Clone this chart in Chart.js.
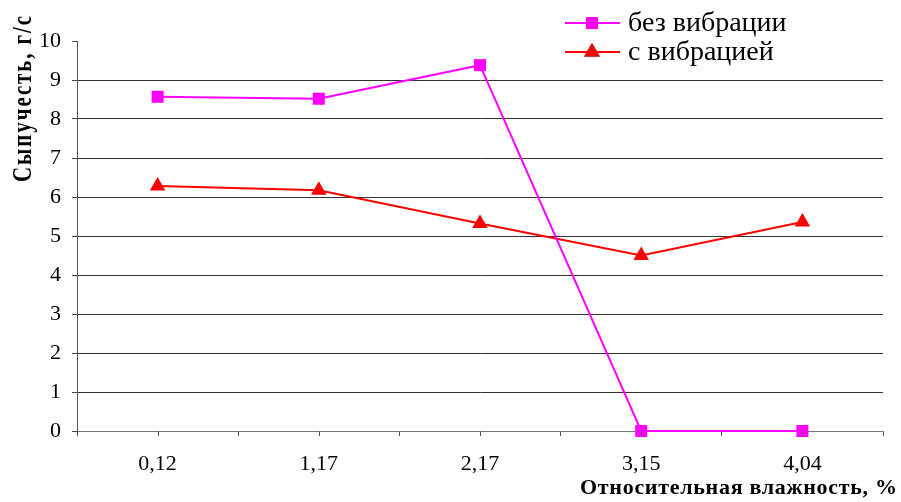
<!DOCTYPE html>
<html>
<head>
<meta charset="utf-8">
<script src="https://cdn.jsdelivr.net/npm/chart.js@4.4.0/dist/chart.umd.min.js"></script>
<style>
  html, body { margin: 0; padding: 0; background: #fff; }
  #wrap { width: 901px; height: 502px; }
</style>
</head>
<body>
<div id="wrap"><canvas id="flowChart" width="901" height="502"></canvas></div>
<script>
// Data
const humidityLabels = ['0,12', '1,17', '2,17', '3,15', '4,04'];
const withoutVibration = [8.57, 8.52, 9.38, 0, 0];
const withVibration = [6.28, 6.17, 5.32, 4.50, 5.36];
const yTicks = [0, 1, 2, 3, 4, 5, 6, 7, 8, 9, 10];

const serif = '"Liberation Serif", "Times New Roman", serif';

// Draws a text fitted to a given width by spreading the letters
function drawSpread(ctx, text, width) {
    ctx.letterSpacing = '0px';
    const w0 = ctx.measureText(text).width;
    const gap = Math.max(0, (width - w0) / (text.length - 1));
    ctx.letterSpacing = gap + 'px';
    ctx.fillText(text, 0, 0);
    ctx.letterSpacing = '0px';
}

// Axis titles, legend and the small tick marks under each category
const decorPlugin = {
    id: 'decor',
    afterDraw(chart) {
        const ctx = chart.ctx;
        const x = chart.scales.x;

        // tick marks at category centres
        ctx.save();
        ctx.strokeStyle = '#555';
        ctx.lineWidth = 1;
        humidityLabels.forEach((lbl, i) => {
            const px = Math.round(x.getPixelForValue(i)) + 0.5;
            ctx.beginPath();
            ctx.moveTo(px, x.top);
            ctx.lineTo(px, x.top + 5);
            ctx.stroke();
        });
        ctx.restore();

        // x axis title
        ctx.save();
        ctx.fillStyle = '#000';
        ctx.font = 'bold 22px ' + serif;
        ctx.textBaseline = 'middle';
        ctx.textAlign = 'left';
        ctx.translate(580, 488);
        drawSpread(ctx, 'Относительная влажность, %', 317);
        ctx.restore();

        // y axis title
        ctx.save();
        ctx.fillStyle = '#000';
        ctx.font = 'bold 21px ' + serif;
        ctx.textBaseline = 'middle';
        ctx.textAlign = 'left';
        ctx.translate(24, 182);
        ctx.rotate(-Math.PI / 2);
        ctx.scale(1, 1.25);
        drawSpread(ctx, 'Сыпучесть, г/с', 166);
        ctx.restore();

        // legend
        ctx.save();
        chart.data.datasets.forEach((ds, i) => {
            const y = 23 + i * 29;
            ctx.strokeStyle = ds.borderColor;
            ctx.lineWidth = 2;
            ctx.beginPath();
            ctx.moveTo(565, y);
            ctx.lineTo(620, y);
            ctx.stroke();
            Chart.helpers.drawPoint(ctx, {
                pointStyle: ds.pointStyle,
                radius: ds.pointRadius,
                borderWidth: 0
            }, 592, y);
            ctx.fillStyle = ds.pointBackgroundColor;
            ctx.fill();
            ctx.fillStyle = '#000';
            ctx.font = '28px ' + serif;
            ctx.textBaseline = 'middle';
            ctx.textAlign = 'left';
            ctx.fillText(ds.label, 628, y + 1);
        });
        ctx.restore();
    }
};

new Chart(document.getElementById('flowChart'), {
    type: 'line',
    data: {
        labels: humidityLabels,
        datasets: [
            {
                label: 'без вибрации',
                data: withoutVibration,
                borderColor: '#ff00ff',
                backgroundColor: '#ff00ff',
                pointBackgroundColor: '#ff00ff',
                pointBorderColor: '#ff00ff',
                pointStyle: 'rect',
                pointRadius: 8.5,
                pointBorderWidth: 0,
                borderWidth: 2,
                tension: 0,
                fill: false,
                clip: false
            },
            {
                label: 'с вибрацией',
                data: withVibration,
                borderColor: '#ff0000',
                backgroundColor: '#ff0000',
                pointBackgroundColor: '#ff0000',
                pointBorderColor: '#ff0000',
                pointStyle: 'triangle',
                pointRadius: 9,
                pointBorderWidth: 0,
                borderWidth: 2,
                tension: 0,
                fill: false,
                clip: false
            }
        ]
    },
    options: {
        responsive: false,
        animation: false,
        devicePixelRatio: 1,
        layout: { padding: { top: 41, right: 18, left: 0, bottom: 0 } },
        plugins: {
            legend: { display: false },
            tooltip: { enabled: false }
        },
        scales: {
            x: {
                type: 'category',
                offset: true,
                afterFit(scale) { scale.height = 71; },
                grid: {
                    offset: true,
                    drawOnChartArea: false,
                    tickLength: 5,
                    color: '#555'
                },
                border: { color: '#777', width: 1 },
                ticks: {
                    color: '#000',
                    padding: 15,
                    font: { family: serif, size: 22 }
                }
            },
            y: {
                min: 0,
                max: 10,
                afterFit(scale) { scale.width = 77; },
                afterBuildTicks(scale) {
                    scale.ticks = yTicks.map(v => ({ value: v }));
                },
                grid: {
                    color: ctx => ctx.tick && ctx.tick.value === 10 ? 'rgba(0,0,0,0)' : '#333',
                    tickColor: '#444',
                    tickLength: 5,
                    lineWidth: 1
                },
                border: { color: '#555', width: 1 },
                ticks: {
                    color: '#000',
                    padding: 11,
                    font: { family: serif, size: 22 }
                }
            }
        }
    },
    plugins: [decorPlugin]
});
</script>
</body>
</html>
